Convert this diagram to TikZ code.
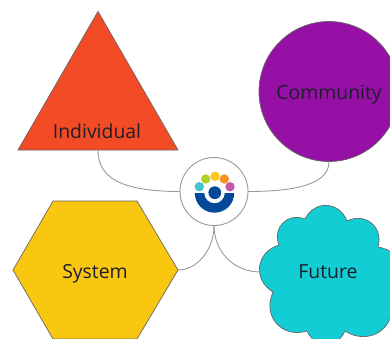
\documentclass[tikz,border=0pt]{standalone}
\usepackage{fontspec}
\setmainfont{Open Sans}
\usetikzlibrary{shapes.geometric}
\definecolor{cred}{HTML}{F44B27}
\definecolor{cpurple}{HTML}{9610A6}
\definecolor{cyellow}{HTML}{FAC710}
\definecolor{ccyan}{HTML}{12CDD4}
\definecolor{cblue}{HTML}{034A9B}
\definecolor{ink}{HTML}{1E1E2A}
\definecolor{dteal}{HTML}{45C1CF}
\definecolor{dgreen}{HTML}{B5CF2A}
\definecolor{dyellow}{HTML}{FBC71B}
\definecolor{dorange}{HTML}{F7931E}
\definecolor{dmag}{HTML}{C457A8}
\tikzset{
  shapeline/.style={draw=black!60!white,line width=0.7pt},
  lbl/.style={text=ink,font=\fontsize{19.4}{23}\selectfont,inner sep=0pt,anchor=center},
  link/.style={draw=black!40!white,line width=0.9pt},
  bump/.style={bend left=66,looseness=1.3},
  dot/.style={circle,inner sep=0pt,minimum size=9.4pt}
}
\begin{document}
\begin{tikzpicture}[x=1pt,y=-1pt]
\useasboundingbox (0,0) rectangle (390,338);
\clip (0,0) rectangle (390,338);
% shapes
\node[regular polygon,regular polygon sides=3,minimum size=184.8pt,inner sep=0pt,outer sep=0pt,fill=cred,shapeline] (indshape) at (98,103.8) {};
\node[circle,minimum size=140pt,inner sep=0pt,outer sep=0pt,fill=cpurple,shapeline] (comshape) at (329,91.5) {};
\draw[shapeline,fill=cyellow] (53,201) -- (137,201) -- (178,270) coordinate (sysr) -- (137,339) -- (53,339) -- (13,270) -- cycle;
\draw[shapeline,fill=ccyan]
  (305,219) to[bump] (347,221) to[bump] (378,247) to[bump] (392,300)
  to[bump] (345,331) to[bump] (307,331) to[bump] (273,292)
  to[bump] (279,245) to[bump] cycle;
\coordinate (futl) at (261,272);
\node[circle,minimum size=68pt,inner sep=0pt,outer sep=0pt,draw=black!40!white,line width=0.9pt,fill=white] (hub) at (214,191.5) {};
% connectors
\draw[link] (indshape.side 2) .. controls (98,176) and (118,191.5) .. (hub.west);
\draw[link] (comshape.south) .. controls (329,178) and (312,191.5) .. (hub.east);
\draw[link] (sysr) .. controls (197,270) and (214,250) .. (hub.south);
\draw[link] (futl) .. controls (232,272) and (214,250) .. (hub.south);
% labels
\node[lbl] (ind) at (97,131) {Individual};
\node[lbl] (com) at (329,94.5) {Community};
\node[lbl] (sys) at (95,274) {System};
\node[lbl] (fut) at (328,272) {Future};
% logo
\fill[cblue] (194.8,193) arc[start angle=180,end angle=0,radius=19.7] -- (224.8,193) arc[start angle=0,end angle=180,radius=10.3] -- cycle;
\node[circle,fill=cblue,inner sep=0pt,minimum size=12.8pt] (logoc) at (214.8,192.7) {};
\node[dot,fill=dteal] (d1) at (199.3,186.7) {};
\node[dot,fill=dgreen] (d2) at (205.7,179) {};
\node[dot,fill=dyellow] (d3) at (215,176.3) {};
\node[dot,fill=dorange] (d4) at (224.3,179) {};
\node[dot,fill=dmag] (d5) at (230,186.7) {};
\end{tikzpicture}
\end{document}
